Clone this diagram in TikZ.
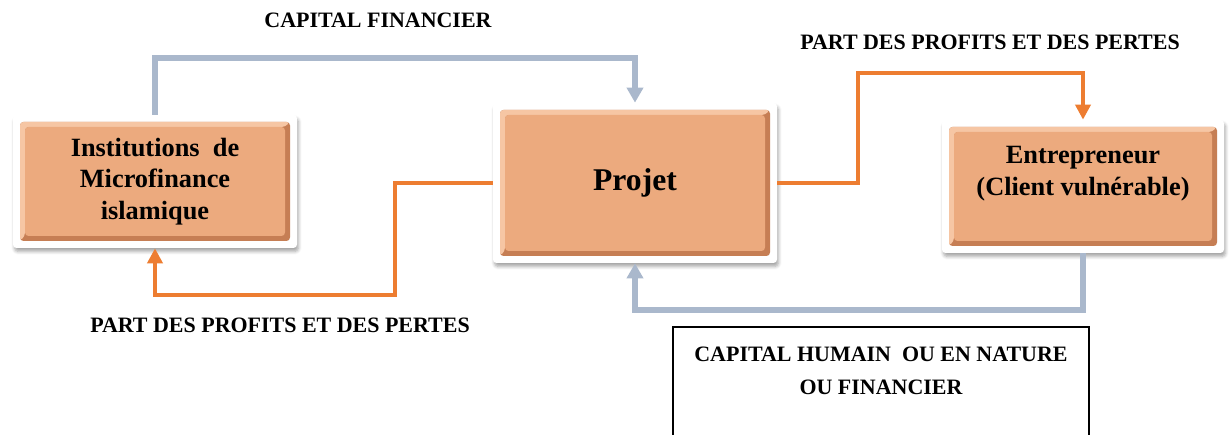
\documentclass[tikz,border=0pt]{standalone}
\usepackage{fontspec}
\setmainfont{Liberation Serif}
\usetikzlibrary{arrows.meta,shadows.blur}
\definecolor{orangebloc}{RGB}{236,170,126}
\definecolor{orangebord}{RGB}{198,126,84}
\definecolor{orangeclair}{RGB}{246,198,164}
\definecolor{orangeflux}{RGB}{237,125,49}
\definecolor{bleuflux}{RGB}{170,184,204}

\begin{document}
\begin{tikzpicture}[
  bloc/.style={rounded corners=2pt, fill=white, align=center,
    minimum width=5.68cm, minimum height=2.66cm,
    font=\bfseries\fontsize{15}{18}\selectfont,
    blur shadow={shadow xshift=0.03cm, shadow yshift=-0.07cm, shadow blur steps=6, shadow opacity=35},
    path picture={
      \coordinate (bsw) at ([shift={(0.14,0.14)}]path picture bounding box.south west);
      \coordinate (bne) at ([shift={(-0.14,-0.14)}]path picture bounding box.north east);
      \fill[orangebord] (bsw) rectangle (bne);
      \fill[orangeclair] (bsw) -- ++(0.1,0.1) |- ([shift={(-0.1,-0.1)}]bne) -- (bne) -| cycle;
      \fill[orangebloc] ([shift={(0.1,0.1)}]bsw) rectangle ([shift={(-0.1,-0.1)}]bne);
    }},
  capflux/.style={line width=3.3pt, bleuflux, -{Triangle[length=0.3cm,width=0.32cm]}},
  partflux/.style={line width=2.3pt, orangeflux, -{Triangle[length=0.3cm,width=0.3cm]}},
  etiq/.style={font=\bfseries\fontsize{12.5}{15}\selectfont}
]
\useasboundingbox (0,0) rectangle (24.58,8.7);
\node[bloc] (imf) at (3.1,5.07) {Institutions~ de\\Microfinance\\islamique};
\node[bloc, minimum height=3.2cm, font=\bfseries\fontsize{18}{22}\selectfont] (projet) at (12.7,5.04) {Projet};
\node[bloc, minimum width=5.64cm] (entr) at (21.66,4.97) {Entrepreneur\\(Client vulnérable)\\~};
\draw[capflux] (imf.north) |- (7.9,7.54) -| (projet.north);
\node[etiq] (lcapfin) at (7.56,8.3) {CAPITAL FINANCIER};
\draw[partflux] (projet.west) -| (7.9,2.8) -| (imf.south);
\node[etiq] (lpartg) at (5.6,2.2) {PART DES PROFITS ET DES PERTES};
\draw[partflux] (projet.east) -| (17.16,7.24) -| (entr.north);
\node[etiq] (lpartd) at (19.8,7.86) {PART DES PROFITS ET DES PERTES};
\draw[capflux] (entr.south) |- (12.7,2.5) -- (projet.south);
%\draw[dashed] (12.7,2.5) -- (12.7,0);
\draw[line width=0.6pt] (13.46,2.16) rectangle (21.78,-0.3);
\node[etiq] (lnature) at (17.62,1.28) [align=center, font=\bfseries\fontsize{12.5}{19}\selectfont] {CAPITAL HUMAIN~ OU EN NATURE\\OU FINANCIER};
\end{tikzpicture}
\end{document}
